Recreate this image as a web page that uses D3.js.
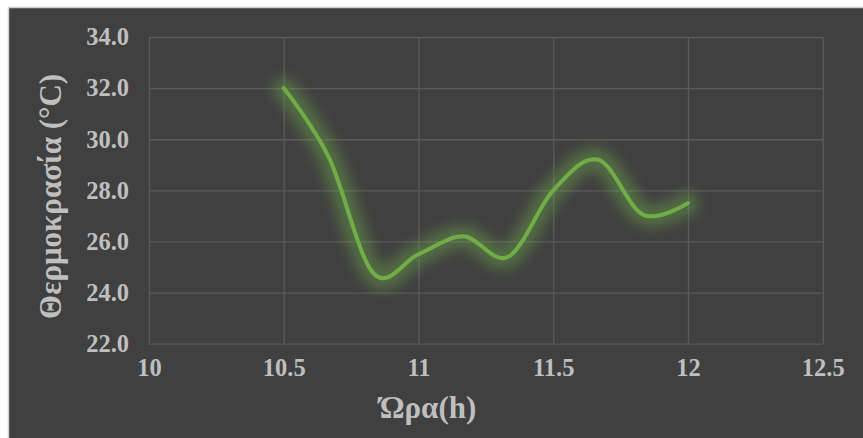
<!DOCTYPE html>
<html>
<head>
<meta charset="utf-8">
<script src="https://cdn.jsdelivr.net/npm/d3@7"></script>
<style>
  html, body { margin: 0; padding: 0; background: #ffffff; }
  svg { display: block; }
</style>
</head>
<body>
<svg id="chart" width="863" height="438"></svg>
<script>
// ---- data ----
const hours = [10.5, 10.667, 10.833, 11, 11.167, 11.333, 11.5, 11.667, 11.833, 12];
const temperatures = [32.0, 29.3, 24.75, 25.5, 26.2, 25.4, 28.0, 29.2, 27.05, 27.5];
const xTicks = [10, 10.5, 11, 11.5, 12, 12.5];
const yTicks = [22, 24, 26, 28, 30, 32, 34];
const xTitle = "Ώρα(h)";
const yTitle = "Θερμοκρασία (°C)";

const svg = d3.select("#chart");
const W = 863, H = 438;
const plot = { left: 149, right: 822.7, top: 37, bottom: 343.7 };

// chart background and border
svg.append("rect").attr("x", 8.5).attr("y", 7.5).attr("width", W).attr("height", H)
  .attr("fill", "#404040").attr("stroke", "#d0d0d0").attr("stroke-width", 1.5);

const x = d3.scaleLinear().domain([10, 12.5]).range([plot.left, plot.right]);
const y = d3.scaleLinear().domain([22, 34]).range([plot.bottom, plot.top]);

const gridColor = "#5b5b5b";
// vertical grid
svg.append("g")
  .attr("transform", `translate(0,${plot.bottom})`)
  .call(d3.axisBottom(x).tickValues(xTicks).tickSize(-(plot.bottom - plot.top)).tickFormat(""))
  .call(g => g.select(".domain").remove())
  .call(g => g.selectAll("line").attr("stroke", gridColor).attr("stroke-width", 1.3));
// horizontal grid
svg.append("g")
  .attr("transform", `translate(${plot.left},0)`)
  .call(d3.axisLeft(y).tickValues(yTicks).tickSize(-(plot.right - plot.left)).tickFormat(""))
  .call(g => g.select(".domain").remove())
  .call(g => g.selectAll("line").attr("stroke", gridColor).attr("stroke-width", 1.3));

const labelColor = "#bfbfbf";
const fontFam = "'Liberation Serif', 'Times New Roman', serif";

// y tick labels
svg.append("g")
  .attr("transform", `translate(${plot.left},0)`)
  .call(d3.axisLeft(y).tickValues(yTicks).tickSize(0).tickPadding(20).tickFormat(d3.format(".1f")))
  .call(g => g.select(".domain").remove())
  .call(g => g.selectAll("text").attr("fill", labelColor)
    .style("font-family", fontFam).style("font-weight", "bold").style("font-size", "24.5px"));

// x tick labels
svg.append("g")
  .attr("transform", `translate(0,${plot.bottom})`)
  .call(d3.axisBottom(x).tickValues(xTicks).tickSize(0).tickPadding(15).tickFormat(d => String(d)))
  .call(g => g.select(".domain").remove())
  .call(g => g.selectAll("text").attr("fill", labelColor)
    .style("font-family", fontFam).style("font-weight", "bold").style("font-size", "24.5px"));

// axis titles
svg.append("text")
  .attr("x", 428).attr("y", 418)
  .attr("text-anchor", "middle")
  .attr("fill", labelColor)
  .style("font-family", fontFam).style("font-weight", "bold").style("font-size", "31px")
  .text(xTitle);

svg.append("text")
  .attr("transform", `translate(61,${(plot.top + plot.bottom) / 2 + 6}) rotate(-90)`)
  .attr("text-anchor", "middle")
  .attr("fill", labelColor)
  .style("font-family", fontFam).style("font-weight", "bold").style("font-size", "31px")
  .text(yTitle);

// glow filter
const defs = svg.append("defs");
const f = defs.append("filter").attr("id", "glow")
  .attr("x", "-20%").attr("y", "-20%").attr("width", "140%").attr("height", "140%");
f.append("feGaussianBlur").attr("stdDeviation", 6.5);

const pts = hours.map((h, i) => [h, temperatures[i]]);
const line = d3.line().x(d => x(d[0])).y(d => y(d[1])).curve(d3.curveCardinal.tension(0));

svg.append("path").datum(pts)
  .attr("d", line)
  .attr("fill", "none")
  .attr("stroke", "#70ad47")
  .attr("stroke-opacity", 0.42)
  .attr("stroke-width", 22)
  .attr("stroke-linecap", "round")
  .attr("stroke-linejoin", "round")
  .attr("filter", "url(#glow)");

svg.append("path").datum(pts)
  .attr("d", line)
  .attr("fill", "none")
  .attr("stroke", "#70ad47")
  .attr("stroke-width", 4)
  .attr("stroke-linecap", "round")
  .attr("stroke-linejoin", "round");
</script>
</body>
</html>
